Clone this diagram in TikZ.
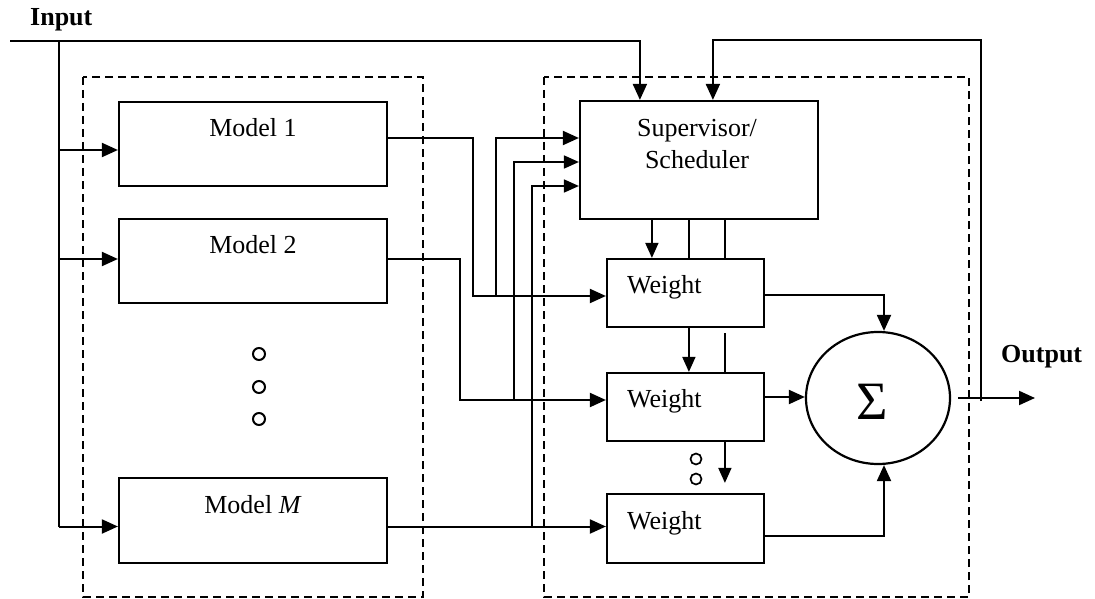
\documentclass[tikz,border=0pt]{standalone}
\usepackage{fontspec}
\setmainfont{Liberation Serif}
\usetikzlibrary{arrows.meta,shapes.geometric}
\tikzset{
  every node/.style={font=\fontsize{26}{32}\selectfont, inner sep=0pt},
  blk/.style={draw, line width=2.2pt, rectangle},
  modelbox/.style={blk, minimum width=268pt, minimum height=84pt},
  wbox/.style={blk, minimum width=157pt, minimum height=68pt},
  ln/.style={line width=2pt},
  thin/.style={line width=1.7pt},
  arr/.style={ln, -{Triangle[length=16pt,width=14pt]}},
  tarr/.style={thin, -{Triangle[length=15pt,width=13pt]}},
  dbox/.style={line width=1.6pt, dash pattern=on 8pt off 5pt},
  dot/.style={draw, circle, line width=2pt, minimum size=12pt},
  bold/.style={font=\fontsize{26}{32}\selectfont\bfseries},
}
\begin{document}
\begin{tikzpicture}[x=1pt, y=-1pt]
\useasboundingbox (0,0) rectangle (1095,599);

% dashed groups
\draw[dbox] (83,77) rectangle (423,597);
\draw[dbox] (544,77) rectangle (969,597);

% model boxes
\node[modelbox] (m1) at (253,144) {};
\node[modelbox] (m2) at (253,261) {};
\node[modelbox, minimum height=85pt] (mM) at (253,520.5) {};
\node[anchor=base] (m1t) at (253,137) {Model 1};
\node[anchor=base] (m2t) at (253,253) {Model 2};
\node[anchor=base] (mMt) at (253,513) {Model \textit{M}};

% vertical dots
\node[dot] (d1) at (259,354) {};
\node[dot] (d2) at (259,387) {};
\node[dot] (d3) at (259,419) {};

% supervisor
\node[blk, minimum width=238pt, minimum height=118pt] (sup) at (699,160) {};
\node[align=center] (supt) at (697,144) {Supervisor/\\Scheduler};

% weights
\node[wbox] (w1) at (685.5,293) {};
\node[wbox] (w2) at (685.5,407) {};
\node[wbox, minimum height=69pt] (w3) at (685.5,528.5) {};
\node[anchor=base west] (w1t) at (627,293) {Weight};
\node[anchor=base west] (w2t) at (627,407) {Weight};
\node[anchor=base west] (w3t) at (627,529) {Weight};

% small dots
\node[dot, line width=1.7pt, minimum size=11pt] (e1) at (696,459) {};
\node[dot, line width=1.7pt, minimum size=11pt] (e2) at (696,479) {};

% sum
\node[draw, ellipse, line width=2.2pt, minimum width=144pt, minimum height=132pt] (sum) at (878,398) {};
\node[anchor=base, font=\fontsize{54}{54}\selectfont] (sig) at (872,419) {Σ};

% labels
\node[bold, anchor=base west] (inl) at (30,26) {Input};
\node[bold, anchor=base west] (outl) at (1001,362) {Output};

% input distribution
\coordinate (in0) at (10,41);
\coordinate (tap) at (59,41);
\draw[arr] (in0) -| ([xshift=61pt]sup.north west);
\coordinate (m1in) at ([yshift=-6pt]m1.west);
\coordinate (m2in) at ([yshift=2pt]m2.west);
\coordinate (mMin) at ([yshift=-6pt]mM.west);
\draw[ln] (tap) -- (tap |- mMin);
\draw[arr] (tap |- m1in) -- (m1in);
\draw[arr] (tap |- m2in) -- (m2in);
\draw[arr] (tap |- mMin) -- (mMin);

% model outputs
\coordinate (m1o) at ([yshift=6pt]m1.east);
\coordinate (m2o) at ([yshift=2pt]m2.east);
\coordinate (mMo) at ([yshift=-6pt]mM.east);
\coordinate (w1i) at ([yshift=-3pt]w1.west);
\coordinate (w2i) at ([yshift=7pt]w2.west);
\coordinate (w3i) at (w3.west |- mMo);
\draw[arr] (m1o) -- ++(85,0) |- (w1i);
\draw[arr] (m2o) -- ++(72,0) |- (w2i);
\draw[arr] (mMo) -- (w3i);

% feedback of model outputs to supervisor
\coordinate (j1) at (496,296);
\coordinate (j2) at (514,400);
\coordinate (j3) at (532,527);
\draw[arr] (j1) |- ([yshift=22pt]sup.west);
\draw[tarr] (j2) |- ([yshift=-2pt]sup.west);
\draw[tarr] (j3) |- ([yshift=-26pt]sup.west);

% supervisor to weights
\draw[tarr] ([xshift=73pt]sup.south west) -- ([xshift=73pt]sup.south west |- w1.north);
\draw[thin] ([xshift=110pt]sup.south west) -- ([xshift=110pt]sup.south west |- w1.north);
\draw[thin] ([xshift=146pt]sup.south west) -- ([xshift=146pt]sup.south west |- w1.north);
\draw[tarr] ([xshift=83pt]w1.south west) -- ([xshift=83pt]w1.south west |- w2.north);
\draw[thin] ([xshift=119pt,yshift=-5pt]w1.south west) -- ([xshift=119pt]w1.south west |- w2.north);
\coordinate (w3a) at ([xshift=119pt,yshift=10pt]w3.north west);
\draw[tarr] ([xshift=119pt]w2.south west) -- (w3a);

% weights to sum
\draw[arr] ([yshift=-2pt]w1.east) -| ([xshift=6pt]sum.north);
\coordinate (w2o) at ([yshift=10pt]w2.east);
\draw[arr] (w2o) -- (w2o -| sum.west);
\draw[arr] ([yshift=-7.5pt]w3.east) -| ([xshift=6pt]sum.south);

% output and feedback
\coordinate (outend) at (1035,398);
\draw[arr] ([xshift=7pt]sum.east) -- (outend);
\coordinate (fb) at (981,401);
\draw[arr] (fb) |- ([xshift=134pt,yshift=60pt]sup.north west) -- ([xshift=134pt]sup.north west);
\end{tikzpicture}
\end{document}
